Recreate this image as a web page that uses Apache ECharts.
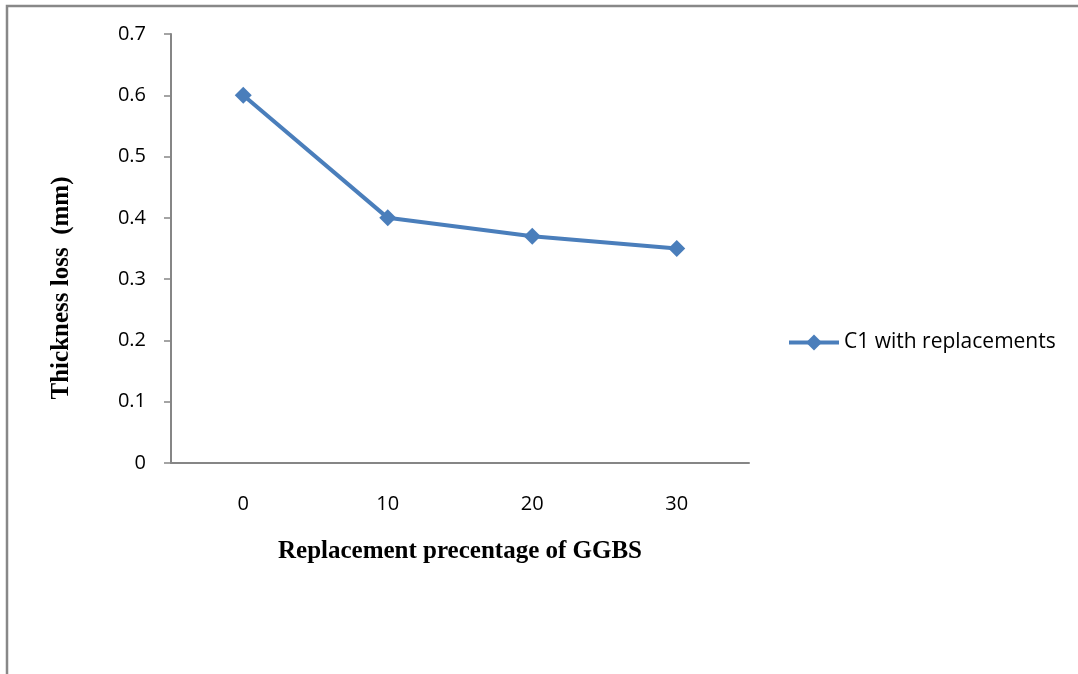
<!DOCTYPE html>
<html>
<head>
<meta charset="utf-8">
<script src="https://cdn.jsdelivr.net/npm/echarts@6/dist/echarts.min.js"></script>
<style>
  html, body { margin: 0; padding: 0; background: #fff; }
  #chart { width: 1078px; height: 674px; }
</style>
</head>
<body>
<div id="chart"></div>
<script>
// GGBS replacement levels (%) and measured thickness loss (mm)
const categories = ['0', '10', '20', '30'];
const thicknessLoss = [0.6, 0.4, 0.37, 0.35];
const seriesName = 'C1 with replacements';
const yTicks = { min: 0, max: 0.7, interval: 0.1 };

const chart = echarts.init(document.getElementById('chart'));
const lineColor = '#4A7EBB';
const axisColor = '#868686';
const labelFont = '"Open Sans", "Noto Sans", sans-serif';
const titleFont = '"Liberation Serif", "DejaVu Serif", serif';

chart.setOption({
  animation: false,
  backgroundColor: '#fff',
  grid: { left: 171, top: 34, right: 329, bottom: 211, containLabel: false },
  legend: {
    data: [seriesName],
    left: 782, top: 327,
    itemWidth: 50, itemHeight: 20, itemGap: 4,
    lineStyle: { width: 4 },
    textStyle: { fontFamily: labelFont, fontSize: 21, color: '#000' }
  },
  xAxis: {
    type: 'category',
    data: categories,
    boundaryGap: true,
    name: 'Replacement precentage of GGBS',
    nameLocation: 'middle',
    nameGap: 76,
    nameTextStyle: { fontFamily: titleFont, fontWeight: 'bold', fontSize: 25, color: '#000' },
    axisLine: { lineStyle: { color: axisColor, width: 2 } },
    axisTick: { alignWithLabel: false, length: 7, lineStyle: { color: axisColor, width: 1.5 } },
    axisLabel: { fontFamily: labelFont, fontSize: 20, color: '#000', margin: 31 }
  },
  yAxis: {
    type: 'value',
    min: yTicks.min, max: yTicks.max, interval: yTicks.interval,
    axisLine: { show: true, lineStyle: { color: axisColor, width: 2 } },
    axisTick: { show: true, length: 7, lineStyle: { color: axisColor, width: 1.5 } },
    splitLine: { show: false },
    axisLabel: { fontFamily: labelFont, fontSize: 20, color: '#000', margin: 25 }
  },
  graphic: [
    {
      type: 'text',
      x: 62, y: 288,
      rotation: Math.PI / 2,
      style: {
        text: 'Thickness loss  (mm)',
        font: 'bold 25px ' + titleFont,
        fill: '#000',
        align: 'center',
        verticalAlign: 'middle'
      }
    },
    {
      type: 'polyline',
      shape: { points: [[7, 676], [7, 6], [1080, 6]] },
      style: { stroke: '#888', lineWidth: 2.5, fill: null }
    }
  ],
  series: [{
    name: seriesName,
    type: 'line',
    data: thicknessLoss,
    symbol: 'diamond',
    symbolSize: 17,
    lineStyle: { color: lineColor, width: 4 },
    itemStyle: { color: lineColor }
  }]
});
</script>
</body>
</html>
